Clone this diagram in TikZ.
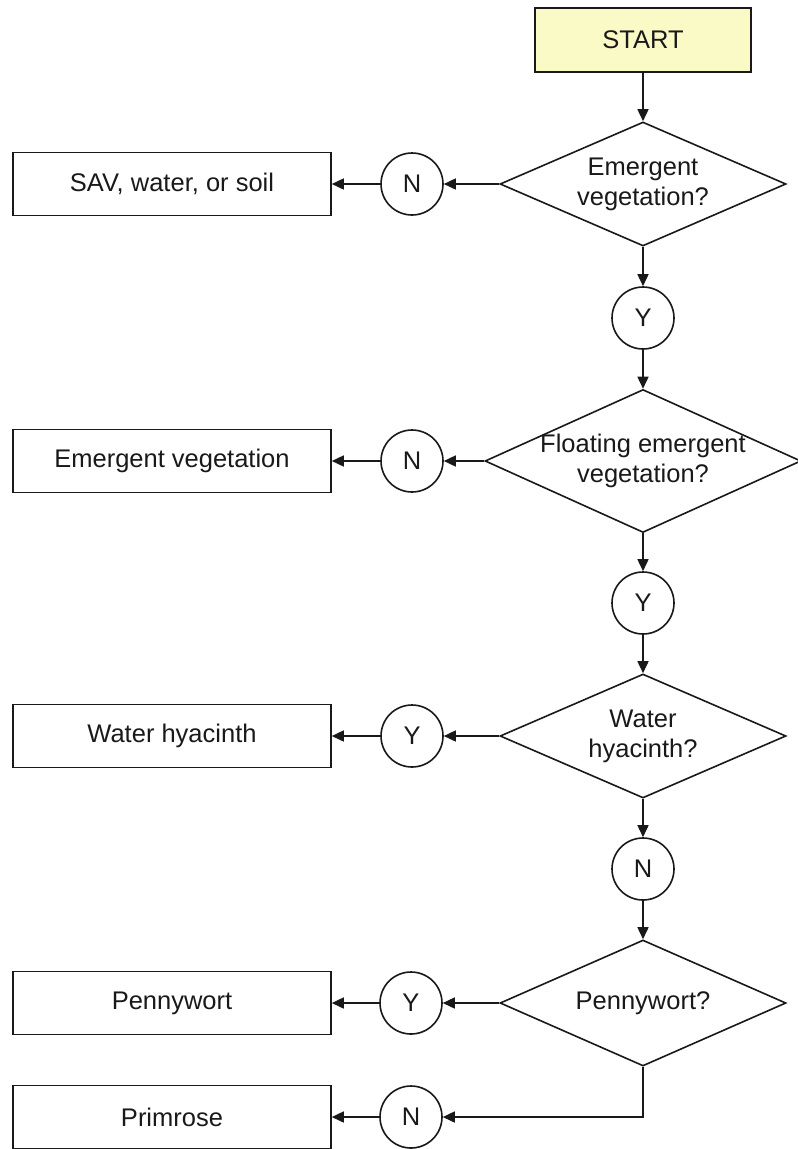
\documentclass[tikz,border=0pt]{standalone}
\usepackage{fontspec}
\setmainfont{Liberation Sans}
\usetikzlibrary{shapes.geometric,arrows.meta}
\definecolor{startfill}{RGB}{250,250,198}
\definecolor{ink}{RGB}{25,25,25}
\tikzset{
  every node/.style={font=\fontsize{25.5}{30}\selectfont, text=ink},
  box/.style={draw=ink, line width=1.6pt, minimum width=318pt, minimum height=63pt, inner sep=0pt},
  startbox/.style={draw=ink, line width=1.6pt, fill=startfill, minimum width=216pt, minimum height=64pt, inner sep=0pt},
  decision/.style={draw=ink, line width=1.6pt, diamond, inner sep=0pt},
  answer/.style={draw=ink, line width=1.6pt, circle, minimum size=62pt, inner sep=0pt},
  label/.style={align=center, inner sep=0pt},
  conn/.style={draw=ink, line width=1.6pt, -{Triangle[length=12pt,width=11pt]}}
}
\begin{document}
\begin{tikzpicture}[x=1pt,y=-1pt]
\useasboundingbox (0,0) rectangle (798,1149);
% start
\node[startbox] (start) at (643,40) {START};
% decisions
\node[decision, minimum width=286pt, minimum height=124pt] (d1) at (643,184) {};
\node[label] (t1) at (643,184) {Emergent\\vegetation?};
\node[decision, minimum width=316pt, minimum height=143pt] (d2) at (643,461) {};
\node[label] (t2) at (643,461) {Floating emergent\\vegetation?};
\node[decision, minimum width=286pt, minimum height=124pt] (d3) at (643,736) {};
\node[label] (t3) at (643,736) {Water\\hyacinth?};
\node[decision, minimum width=286pt, minimum height=126pt] (d4) at (643,1003) {};
\node[label] (t4) at (643,1003) {Pennywort?};
% answers along the spine
\node[answer] (y1) at (643,318) {Y};
\node[answer] (y2) at (643,603) {Y};
\node[answer] (n3) at (643,869) {N};
% answers on the left
\node[answer] (n1) at (412,184) {N};
\node[answer] (n2) at (412,461) {N};
\node[answer] (y3) at (412,736) {Y};
\node[answer] (y4) at (411,1003) {Y};
\node[answer] (n4) at (411,1117) {N};
% result boxes
\node[box] (r1) at (172,184) {SAV, water, or soil};
\node[box] (r2) at (172,461) {Emergent vegetation};
\node[box] (r3) at (172,736) {Water hyacinth};
\node[box] (r4) at (172,1003) {Pennywort};
\node[box] (r5) at (172,1117) {Primrose};
% spine connectors
\draw[conn] (start.south) -- (d1.north);
\draw[conn] (d1.south) -- (y1.north);
\draw[conn] (y1.south) -- (d2.north);
\draw[conn] (d2.south) -- (y2.north);
\draw[conn] (y2.south) -- (d3.north);
\draw[conn] (d3.south) -- (n3.north);
\draw[conn] (n3.south) -- (d4.north);
% side connectors
\draw[conn] (d1.west) -- (n1.east);
\draw[conn] (n1.west) -- (r1.east);
\draw[conn] (d2.west) -- (n2.east);
\draw[conn] (n2.west) -- (r2.east);
\draw[conn] (d3.west) -- (y3.east);
\draw[conn] (y3.west) -- (r3.east);
\draw[conn] (d4.west) -- (y4.east);
\draw[conn] (y4.west) -- (r4.east);
\draw[conn] (d4.south) |- (n4.east);
\draw[conn] (n4.west) -- (r5.east);
\end{tikzpicture}
\end{document}
